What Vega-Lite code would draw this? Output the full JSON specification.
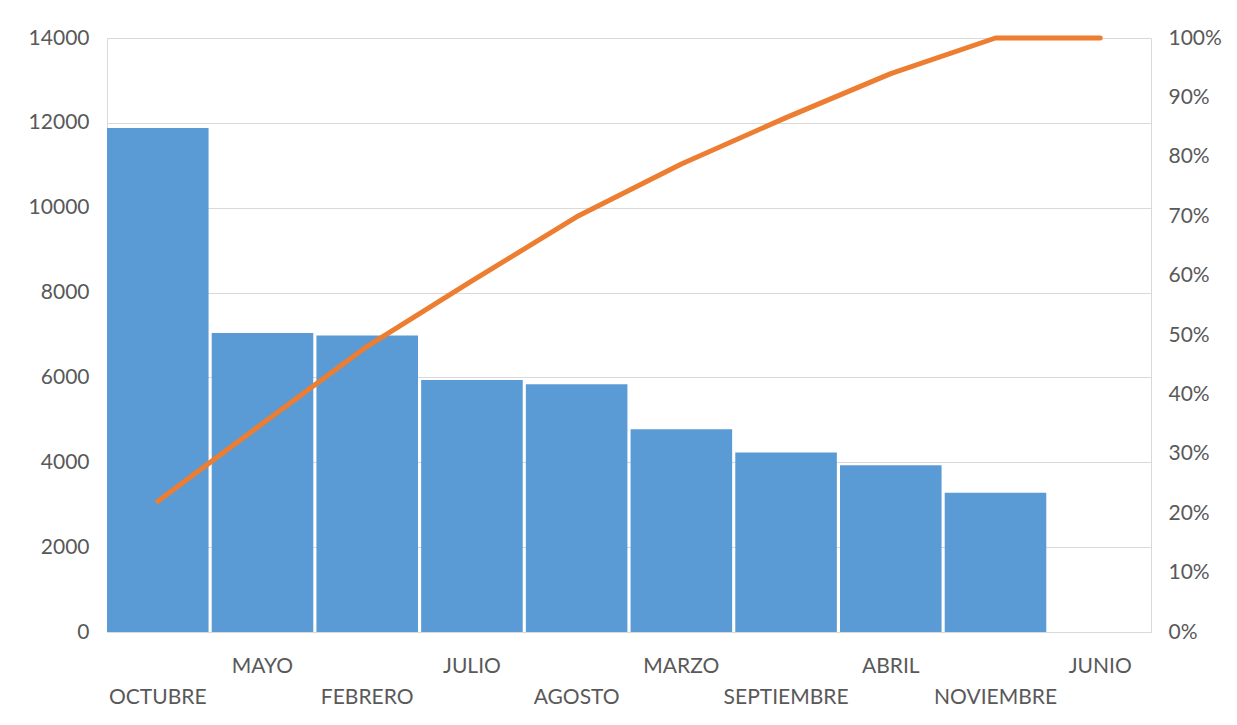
{
  "$schema": "https://vega.github.io/schema/vega-lite/v6.json",
  "width": 1044,
  "height": 594,
  "autosize": {"type": "none"},
  "padding": {"left": 107, "top": 38, "right": 86, "bottom": 93},
  "background": "white",
  "config": {
    "view": {"stroke": null},
    "font": "Lato",
    "axis": {"labelFont": "Lato", "labelFontSize": 21, "labelColor": "#595959", "ticks": false, "domainColor": "#d9d9d9", "gridColor": "#d9d9d9", "title": null}
  },
  "data": {
    "values": [
      {"mes": "OCTUBRE", "valor": 11880, "acumulado": 0.22},
      {"mes": "MAYO", "valor": 7050, "acumulado": 0.351},
      {"mes": "FEBRERO", "valor": 6990, "acumulado": 0.481},
      {"mes": "JULIO", "valor": 5940, "acumulado": 0.591},
      {"mes": "AGOSTO", "valor": 5840, "acumulado": 0.699},
      {"mes": "MARZO", "valor": 4780, "acumulado": 0.788},
      {"mes": "SEPTIEMBRE", "valor": 4230, "acumulado": 0.866},
      {"mes": "ABRIL", "valor": 3930, "acumulado": 0.94},
      {"mes": "NOVIEMBRE", "valor": 3280, "acumulado": 1.0},
      {"mes": "JUNIO", "valor": 0, "acumulado": 1.0}
    ]
  },
  "encoding": {
    "x": {
      "field": "mes", "type": "nominal", "sort": null,
      "scale": {"paddingInner": 0.03, "paddingOuter": 0},
      "axis": {
        "labelAngle": 0, "domain": true, "domainColor": "#d9d9d9", "grid": false,
        "labelBaseline": "middle",
        "labelPadding": {"condition": {"test": "indexof(['MAYO','JULIO','MARZO','ABRIL','JUNIO'], datum.value) >= 0", "value": 34}, "value": 65}
      }
    }
  },
  "layer": [
    {
      "mark": {"type": "bar", "color": "#5B9BD5"},
      "encoding": {
        "y": {
          "field": "valor", "type": "quantitative",
          "scale": {"domain": [0, 14000], "nice": false},
          "axis": {"values": [0, 2000, 4000, 6000, 8000, 10000, 12000, 14000], "format": "d", "grid": true, "domain": true, "labelPadding": 18, "orient": "left"}
        }
      }
    },
    {
      "mark": {"type": "line", "color": "#ED7D31", "strokeWidth": 5, "strokeCap": "round", "strokeJoin": "round"},
      "encoding": {
        "y": {
          "field": "acumulado", "type": "quantitative",
          "scale": {"domain": [0, 1], "nice": false},
          "axis": {"values": [0, 0.1, 0.2, 0.3, 0.4, 0.5, 0.6, 0.7, 0.8, 0.9, 1], "format": ".0%", "grid": false, "domain": true, "labelPadding": 17, "orient": "right"}
        }
      }
    }
  ],
  "resolve": {"scale": {"y": "independent"}}
}
